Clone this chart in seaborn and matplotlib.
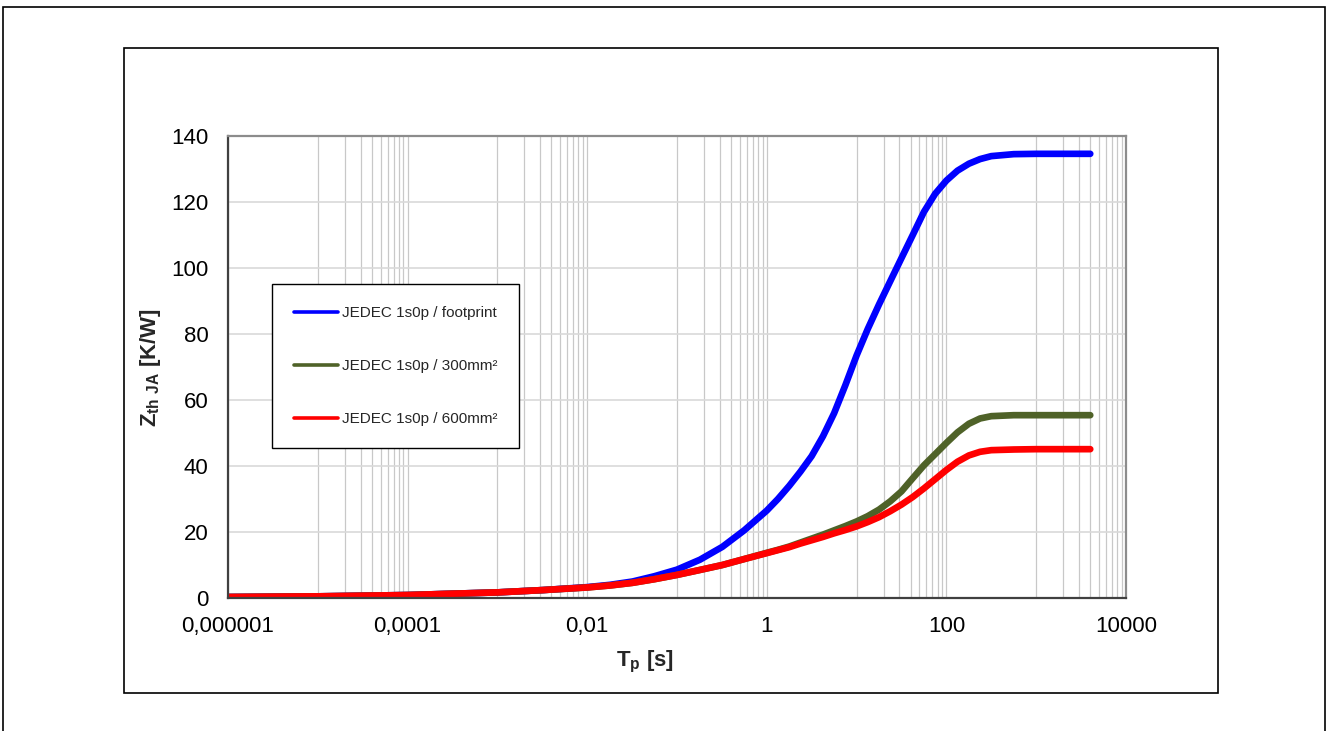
import numpy as np
import pandas as pd
import matplotlib
matplotlib.use("Agg")
import matplotlib.pyplot as plt
from matplotlib.patches import Rectangle
from matplotlib.ticker import FixedLocator, FixedFormatter, MultipleLocator, NullFormatter
import seaborn as sns

# ── Données (Zth JA en fonction de Tp) ───────────────────────────────
t_p = [1e-6, 1e-5, 1e-4, 1e-3, 0.0032, 0.01, 0.018, 0.032, 0.056, 0.1,
       0.18, 0.32, 0.56, 1, 1.33, 1.78, 2.37, 3.16, 4.22, 5.62,
       7.5, 10, 13.3, 17.8, 23.7, 31.6, 42.2, 56.2, 75, 100,
       133, 178, 237, 316, 562, 1000, 2000, 4000]

zth_footprint = [0.3, 0.5, 0.9, 1.7, 2.4, 3.3, 4.0, 5.0, 6.6, 8.6,
                 11.6, 15.5, 20.5, 26.5, 30.0, 34.0, 38.3, 43.0, 49.0, 56.0,
                 64.5, 73.5, 81.5, 89.0, 96.0, 103.0, 110.0, 117.0, 122.5, 126.5,
                 129.5, 131.6, 133.0, 133.9, 134.5, 134.6, 134.6, 134.6]

zth_300mm = [0.3, 0.5, 0.9, 1.7, 2.4, 3.2, 3.8, 4.6, 5.7, 7.0,
             8.5, 10.0, 11.8, 13.7, 14.6, 15.6, 16.8, 18.0, 19.2, 20.5,
             21.8, 23.2, 24.8, 26.8, 29.3, 32.3, 36.3, 40.2, 43.6, 47.0,
             50.2, 52.8, 54.4, 55.1, 55.4, 55.4, 55.4, 55.4]

zth_600mm = [0.3, 0.5, 0.9, 1.7, 2.4, 3.2, 3.8, 4.6, 5.7, 7.0,
             8.5, 10.0, 11.8, 13.6, 14.5, 15.4, 16.5, 17.5, 18.5, 19.6,
             20.6, 21.7, 23.0, 24.5, 26.3, 28.3, 30.6, 33.2, 36.0, 38.8,
             41.3, 43.2, 44.3, 44.8, 45.0, 45.1, 45.1, 45.1]

series = ["JEDEC 1s0p / footprint", "JEDEC 1s0p / 300mm²", "JEDEC 1s0p / 600mm²"]
colors = ["#0000FF", "#4F6228", "#FF0000"]

x_major = [1e-6, 1e-4, 1e-2, 1, 100, 10000]
x_labels = ["0,000001", "0,0001", "0,01", "1", "100", "10000"]
y_ticks = [0, 20, 40, 60, 80, 100, 120, 140]

# ── Mise en forme ─────────────────────────────────────────────
sns.set_style("white")
plt.rcParams["font.family"] = ["Liberation Sans", "DejaVu Sans"]
plt.rcParams["mathtext.fontset"] = "custom"
plt.rcParams["mathtext.rm"] = "Liberation Sans"
plt.rcParams["mathtext.bf"] = "Liberation Sans:bold"

df = pd.DataFrame({
    "Tp": t_p * 3,
    "Zth": zth_footprint + zth_300mm + zth_600mm,
    "serie": [s for s in series for _ in t_p],
})

fig = plt.figure(figsize=(13.27, 7.31), dpi=100)
ax = fig.add_axes([228 / 1327, 1 - 598 / 731, 898 / 1327, 462 / 731])

sns.lineplot(data=df, x="Tp", y="Zth", hue="serie", hue_order=series,
             palette=dict(zip(series, colors)), linewidth=4.8,
             estimator=None, sort=False, ax=ax)
for ln in ax.get_lines():
    ln.set_solid_capstyle("round")
    ln.set_solid_joinstyle("round")

ax.set_xscale("log")
ax.set_xlim(1e-6, 1e4)
ax.set_ylim(0, 140)

# ticks x : majeurs tous les 2 décades, mineurs type Excel
x_minor = [v * 10 * m for v in x_major[:-1] for m in range(1, 10)]
ax.xaxis.set_major_locator(FixedLocator(x_major))
ax.xaxis.set_major_formatter(FixedFormatter(x_labels))
ax.xaxis.set_minor_locator(FixedLocator(x_minor))
ax.xaxis.set_minor_formatter(NullFormatter())
ax.set_yticks(y_ticks)
ax.yaxis.set_minor_locator(MultipleLocator(5))

ax.tick_params(which="major", direction="inout", length=8, width=1.4,
               color="#404040", labelsize=16, labelcolor="black", pad=9)
ax.tick_params(axis="y", which="major", pad=10)
ax.tick_params(which="minor", direction="in", length=3.5, width=1.0, color="#404040")

ax.grid(which="major", axis="y", color="#d9d9d9", lw=1.2)
ax.grid(which="both", axis="x", color="#c8c8c8", lw=0.9)
ax.set_axisbelow(True)

for side in ["left", "bottom"]:
    ax.spines[side].set_color("#404040")
    ax.spines[side].set_linewidth(1.6)
for side in ["top", "right"]:
    ax.spines[side].set_color("#8c8c8c")
    ax.spines[side].set_linewidth(1.6)

ax.set_xlabel(r"$\mathbf{T}_{\mathbf{p}}$ [s]", fontsize=16, fontweight="bold")
ax.set_ylabel(r"$\mathbf{Z}_{\mathbf{th\ JA}}$ [K/W]", fontsize=16, fontweight="bold")
ax.xaxis.set_label_coords(0.464, -0.11)
ax.yaxis.set_label_coords(-0.072, 0.5)

leg = ax.legend(loc="upper left", bbox_to_anchor=(0.049, 0.680), frameon=True,
                fancybox=False, edgecolor="black", framealpha=1, fontsize=11,
                handlelength=2.9, handletextpad=0.2, labelspacing=2.55,
                borderpad=1.45, borderaxespad=0, title=None)
leg.get_frame().set_linewidth(1.0)
for ln in leg.get_lines():
    ln.set_linewidth(2.6)

# cadres extérieurs (zone graphique Excel)
fig.add_artist(Rectangle((3 / 1327, -0.02), 1322 / 1327, 1.02 - 7 / 731,
                         transform=fig.transFigure, fill=False, ec="black", lw=1.2))
fig.add_artist(Rectangle((124 / 1327, 1 - 693 / 731), 1094 / 1327, 645 / 731,
                         transform=fig.transFigure, fill=False, ec="black", lw=1.2))

fig.savefig("out.png", dpi=100)
